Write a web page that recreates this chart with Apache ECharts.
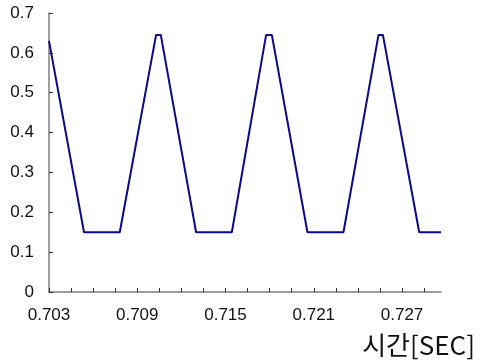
<!DOCTYPE html>
<html>
<head>
<meta charset="utf-8">
<script src="https://cdn.jsdelivr.net/npm/echarts@6/dist/echarts.min.js"></script>
<style>
  html, body { margin: 0; padding: 0; background: #fff; }
  #chart { width: 484px; height: 364px; }
</style>
</head>
<body>
<div id="chart"></div>
<script>
// Time samples [s] at the corners of the waveform
const timeSec = [0.70300, 0.70538, 0.70781, 0.71028, 0.71060, 0.71300, 0.71543,
                 0.71776, 0.71815, 0.72057, 0.72302, 0.72540, 0.72570, 0.72817, 0.72965];
// Signal level at each sample
const level = [0.63, 0.15, 0.15, 0.645, 0.645, 0.15, 0.15,
               0.645, 0.645, 0.15, 0.15, 0.645, 0.645, 0.15, 0.15];

// Axis ticks and labels
const xTicks = [0.703, 0.7045, 0.706, 0.7075, 0.709, 0.7105, 0.712, 0.7135, 0.715,
                0.7165, 0.718, 0.7195, 0.721, 0.7225, 0.724, 0.7255, 0.727, 0.7285];
const xLabels = [0.703, 0.709, 0.715, 0.721, 0.727];
const xName = '시간[SEC]';

const chart = echarts.init(document.getElementById('chart'), null, { renderer: 'canvas' });

const axisColor = '#808080';
const labelStyle = { color: '#111', fontFamily: 'Liberation Sans, Arial, sans-serif', fontSize: 17 };

chart.setOption({
  animation: false,
  grid: { left: 49, right: 43, top: 13, bottom: 72, containLabel: false },
  xAxis: {
    type: 'value',
    min: 0.703,
    max: 0.72965,
    splitLine: { show: false },
    axisLine: { lineStyle: { color: axisColor, width: 1.5 } },
    axisTick: { inside: true, length: 4, customValues: xTicks, lineStyle: { color: '#333', width: 1 } },
    axisLabel: Object.assign({ margin: 15, customValues: xLabels, formatter: v => v.toFixed(3) }, labelStyle),
    name: xName,
    nameLocation: 'end',
    nameGap: 34,
    nameTextStyle: {
      fontFamily: 'Noto Sans CJK KR, sans-serif',
      fontSize: 26,
      color: '#111',
      align: 'right',
      verticalAlign: 'top',
      padding: [40, 0, 0, 0]
    }
  },
  yAxis: {
    type: 'value',
    min: 0,
    max: 0.7,
    interval: 0.1,
    splitLine: { show: false },
    axisLine: { show: true, lineStyle: { color: axisColor, width: 1.5 } },
    axisTick: { show: true, inside: true, length: 4, lineStyle: { color: '#333', width: 1 } },
    axisLabel: Object.assign({ margin: 15, formatter: v => (Math.round(v * 10) / 10).toString() }, labelStyle)
  },
  series: [{
    type: 'line',
    data: timeSec.map((t, i) => [t, level[i]]),
    showSymbol: false,
    lineStyle: { color: '#0a0a8a', width: 2 }
  }]
});
</script>
</body>
</html>
